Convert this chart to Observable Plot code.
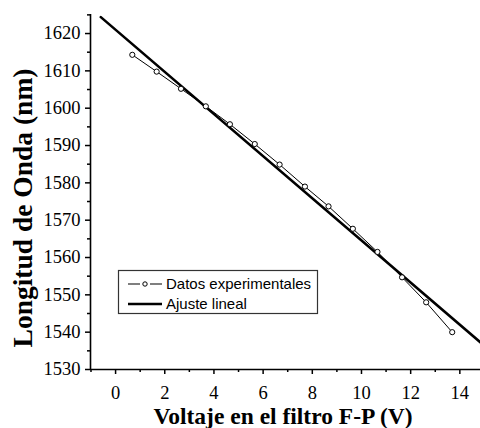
<!DOCTYPE html>
<html>
<head>
<meta charset="utf-8">
<script src="https://cdn.jsdelivr.net/npm/d3@7"></script>
<script src="https://cdn.jsdelivr.net/npm/@observablehq/plot@0.6"></script>
<style>
  html, body { margin: 0; padding: 0; background: #fff; }
  svg { display: block; }
  svg text.tick-label { font-family: "Liberation Serif", "Times New Roman", serif !important; font-size: 18.5px !important; }
</style>
</head>
<body>
<div id="chart"></div>
<script>
// Data
const voltaje = [0.68, 1.67, 2.66, 3.67, 4.65, 5.66, 6.67, 7.7, 8.66, 9.65, 10.65, 11.65, 12.63, 13.69];
const longitud = [1614.3, 1609.8, 1605.2, 1600.5, 1595.7, 1590.4, 1584.9, 1579.0, 1573.7, 1567.7, 1561.5, 1554.7, 1548.0, 1540.0];
// Linear fit endpoints (as drawn)
const ajusteX = [-0.6, 14.9];
const ajusteY = [1624.4, 1536.9];
// Axes
const xDomain = [-1.02, 14.84];
const yDomain = [1530, 1625.1];
const xTicks = [0, 2, 4, 6, 8, 10, 12, 14];
const xMinor = [-1, 1, 3, 5, 7, 9, 11, 13];
const yTicks = [1530, 1540, 1550, 1560, 1570, 1580, 1590, 1600, 1610, 1620];
const yMinor = [1535, 1545, 1555, 1565, 1575, 1585, 1595, 1605, 1615, 1625];
const xTitle = "Voltaje en el filtro F-P (V)";
const yTitle = "Longitud de Onda (nm)";
const legendLabels = ["Datos experimentales", "Ajuste lineal"];

const serif = "'Liberation Serif', 'Times New Roman', serif";
const datos = voltaje.map((v, i) => ({x: v, y: longitud[i]}));
const ajuste = ajusteX.map((v, i) => ({x: v, y: ajusteY[i]}));
const fmt = d3.format("d");

const svg = Plot.plot({
  width: 480,
  height: 428,
  marginLeft: 90,
  marginTop: 14,
  marginBottom: 59,
  marginRight: 0,
  style: {fontSize: "18px", fontFamily: "Liberation Serif", color: "#000", background: "#fff"},
  x: {domain: xDomain, axis: null},
  y: {domain: yDomain, axis: null},
  marks: [
    Plot.line(ajuste, {x: "x", y: "y", stroke: "#000", strokeWidth: 2.6, clip: true}),
    Plot.line(datos, {x: "x", y: "y", stroke: "#000", strokeWidth: 1}),
    Plot.dot(datos, {x: "x", y: "y", r: 2.6, stroke: "#000", fill: "#fff", strokeWidth: 1}),
    Plot.axisY(yMinor, {tickSize: 3, text: null, label: null, strokeWidth: 1.5}),
    Plot.axisY(yTicks, {tickSize: 5, tickPadding: 5, label: null, tickFormat: fmt, fontSize: 18, strokeWidth: 1.5}),
    Plot.axisX(xMinor, {tickSize: 3, text: null, label: null, strokeWidth: 1.5}),
    Plot.axisX(xTicks, {tickSize: 5, tickPadding: 11, label: null, tickFormat: fmt, fontSize: 18, strokeWidth: 1.5}),
    Plot.ruleX([xDomain[0]], {stroke: "#000", strokeWidth: 1.6}),
    Plot.ruleY([yDomain[0]], {stroke: "#000", strokeWidth: 1.6})
  ]
});

const s = d3.select(svg);
// Serif tick labels
s.selectAll("text").classed("tick-label", true)
  .attr("font-family", "Liberation Serif").attr("font-size", 18.5);

// Axis titles
s.append("text")
  .attr("transform", "translate(32,208) rotate(-90)")
  .attr("text-anchor", "middle")
  .style("font-family", serif)
  .attr("font-weight", "bold")
  .attr("font-size", 27.5)
  .attr("fill", "#000")
  .text(yTitle);
s.append("text")
  .attr("x", 283)
  .attr("y", 424)
  .attr("text-anchor", "middle")
  .style("font-family", serif)
  .attr("font-weight", "bold")
  .attr("font-size", 23.5)
  .attr("fill", "#000")
  .text(xTitle);

// Legend
const lg = s.append("g").attr("text-anchor", "start");
lg.append("rect").attr("x", 118.5).attr("y", 270.5).attr("width", 199).attr("height", 43)
  .attr("fill", "#fff").attr("stroke", "#333").attr("stroke-width", 1.2);
lg.append("line").attr("x1", 128).attr("x2", 162).attr("y1", 284).attr("y2", 284)
  .attr("stroke", "#000").attr("stroke-width", 1.2);
lg.append("line").attr("x1", 140).attr("x2", 150).attr("y1", 284).attr("y2", 284)
  .attr("stroke", "#fff").attr("stroke-width", 3);
lg.append("circle").attr("cx", 145).attr("cy", 284).attr("r", 2.2)
  .attr("fill", "#fff").attr("stroke", "#000").attr("stroke-width", 1);
lg.append("line").attr("x1", 128).attr("x2", 162).attr("y1", 304).attr("y2", 304)
  .attr("stroke", "#000").attr("stroke-width", 2.6);
legendLabels.forEach((t, i) => {
  lg.append("text").attr("x", 166).attr("y", 289 + i * 20)
    .attr("text-anchor", "start")
    .style("font-family", "'Liberation Sans', Arial, sans-serif")
    .attr("font-size", 15).attr("fill", "#000").text(t);
});

document.getElementById("chart").appendChild(svg);
</script>
</body>
</html>
